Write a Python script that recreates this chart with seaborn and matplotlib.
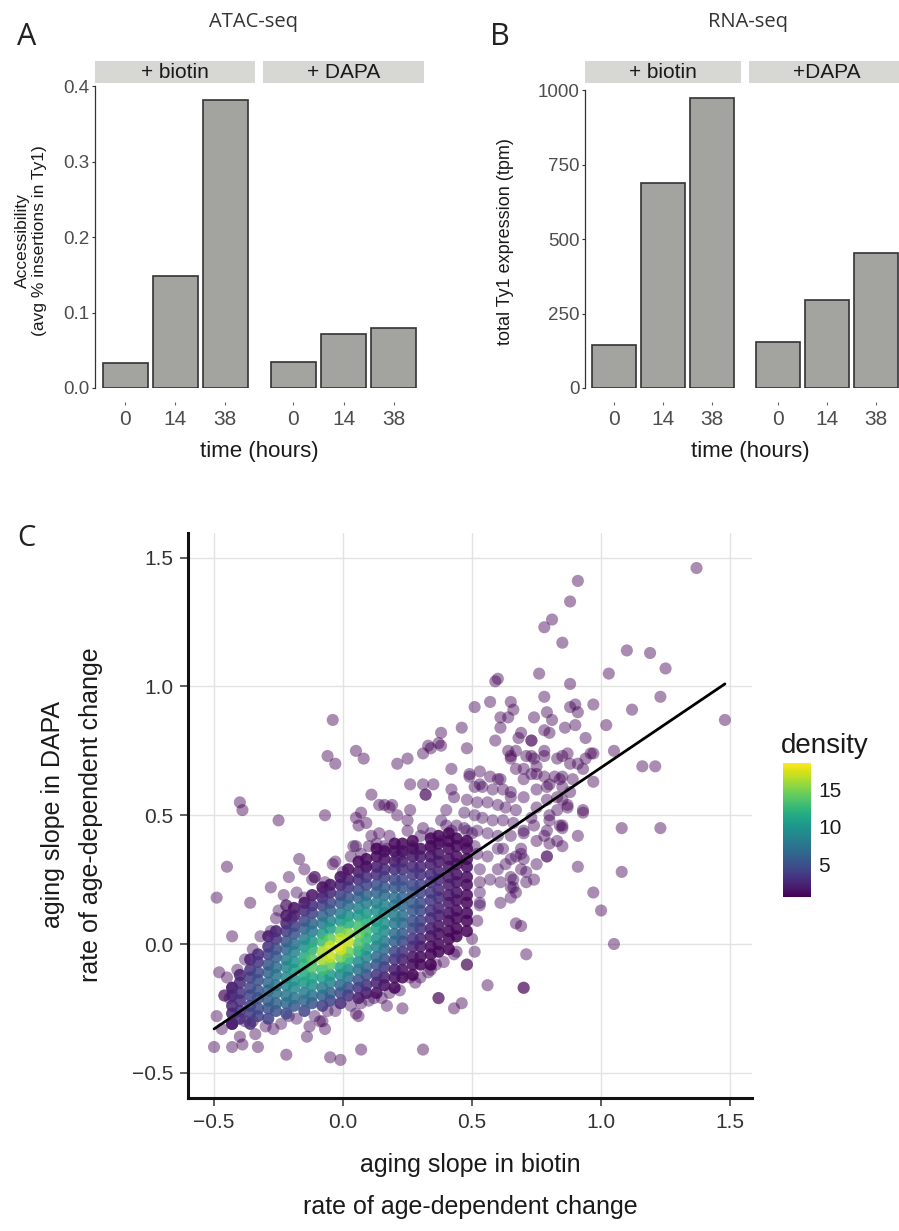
import numpy as np
import pandas as pd
import matplotlib
matplotlib.use("Agg")
import matplotlib.pyplot as plt
import seaborn as sns
from matplotlib.colors import Normalize
from matplotlib.patches import Rectangle
from matplotlib.cm import ScalarMappable

# ---------------- panels A / B : bar heights ----------------
times = ["0", "14", "38"]
atac_biotin = [0.033, 0.148, 0.382]
atac_dapa = [0.034, 0.071, 0.079]
rna_biotin = [144, 689, 972]
rna_dapa = [155, 295, 454]

# ---------------- panel C : fitted line ----------------
fit_x = [-0.50, 1.48]
fit_y = [-0.33, 1.01]

# ---------------- panel C : points (x, y, density) ----------------
far_pts = [
    (1.37, 1.46, 0.6), (0.91, 1.41, 0.6), (0.88, 1.33, 0.6), (0.81, 1.26, 0.6), (0.78, 1.23, 0.6),
    (0.85, 1.17, 0.6), (1.10, 1.14, 0.6), (1.19, 1.13, 0.6), (1.25, 1.07, 0.6), (1.03, 1.05, 0.6),
    (0.76, 1.05, 0.6), (0.59, 1.02, 0.7), (0.60, 1.03, 0.7), (0.88, 1.01, 0.6), (1.23, 0.96, 0.6),
    (1.48, 0.87, 0.6), (1.12, 0.91, 0.6), (1.02, 0.85, 0.6), (1.05, 0.75, 0.6), (1.16, 0.69, 0.6),
    (1.21, 0.69, 0.6), (1.08, 0.45, 0.6), (1.23, 0.45, 0.6), (1.08, 0.28, 0.6), (0.91, 0.30, 0.7),
    (0.97, 0.20, 0.6), (1.00, 0.13, 0.6), (1.05, 0.00, 0.6), (0.67, 0.08, 0.7), (0.69, 0.07, 0.7),
    (0.71, -0.04, 0.6), (0.56, -0.16, 0.6), (0.70, -0.17, 0.6), (0.70, -0.17, 0.6), (0.46, -0.23, 0.6),
    (0.43, -0.25, 0.6), (0.31, -0.41, 0.6), (0.37, -0.21, 0.7), (0.37, -0.21, 0.7), (0.48, -0.08, 0.8),
    (0.48, -0.08, 0.8), (0.51, -0.03, 0.8), (0.43, -0.04, 1.0), (0.23, -0.25, 0.7), (-0.04, 0.87, 0.6),
    (-0.03, 0.70, 0.6), (-0.06, 0.73, 0.6), (0.05, 0.75, 0.6), (0.08, 0.72, 0.6), (-0.40, 0.55, 0.6),
    (-0.39, 0.52, 0.6), (-0.25, 0.48, 0.6), (-0.07, 0.50, 0.6), (-0.45, 0.30, 0.6), (-0.49, 0.18, 0.6),
    (-0.36, 0.16, 0.7), (-0.43, 0.03, 0.6), (-0.48, -0.11, 0.7), (-0.50, -0.40, 0.6), (-0.22, -0.43, 0.6),
    (-0.05, -0.44, 0.6), (-0.01, -0.45, 0.6), (0.07, -0.41, 0.6), (0.11, 0.58, 0.7), (0.21, 0.70, 0.7),
    (0.25, 0.72, 0.7), (0.97, 0.63, 0.7), (0.93, 0.51, 0.7),
]

band_pts = [
    (0.97, 0.93, 0.7), (0.78, 0.96, 0.7), (0.57, 0.94, 0.7), (0.51, 0.92, 0.7), (0.65, 0.94, 0.7),
    (0.66, 0.91, 0.7), (0.61, 0.88, 0.7), (0.61, 0.84, 0.7), (0.79, 0.90, 0.7), (0.74, 0.88, 0.7),
    (0.88, 0.92, 0.7), (0.90, 0.93, 0.7), (0.91, 0.90, 0.7), (0.81, 0.87, 0.7), (0.80, 0.82, 0.7),
    (0.86, 0.84, 0.7), (0.90, 0.85, 0.7), (0.94, 0.80, 0.7), (0.97, 0.74, 0.7), (0.94, 0.72, 0.7),
    (0.46, 0.84, 0.7), (0.38, 0.82, 0.7), (0.37, 0.78, 0.7), (0.34, 0.76, 0.7), (0.48, 0.76, 0.8),
    (0.59, 0.79, 0.8), (0.69, 0.82, 0.8), (0.68, 0.80, 0.8), (0.73, 0.79, 0.8), (0.73, 0.79, 0.8),
    (0.64, 0.75, 0.8), (0.67, 0.75, 0.8), (0.65, 0.72, 0.8), (0.78, 0.75, 0.8), (0.78, 0.73, 0.8),
    (0.74, 0.72, 0.8), (0.83, 0.72, 0.8), (0.87, 0.74, 0.8), (0.88, 0.70, 0.8), (0.42, 0.68, 0.8),
    (0.49, 0.65, 0.9), (0.53, 0.62, 0.9), (0.57, 0.65, 0.9), (0.60, 0.64, 0.9), (0.67, 0.68, 0.9),
    (0.70, 0.68, 0.9), (0.73, 0.66, 0.9), (0.78, 0.65, 0.9), (0.82, 0.65, 0.9), (0.85, 0.65, 0.8),
    (0.89, 0.64, 0.8), (0.33, 0.77, 0.8), (0.31, 0.74, 0.8), (0.65, 0.73, 0.8), (0.26, 0.62, 0.8),
    (0.31, 0.62, 0.9), (0.35, 0.62, 0.9), (0.32, 0.58, 0.9), (0.32, 0.58, 0.9), (0.42, 0.60, 1.0),
    (0.43, 0.57, 1.0), (0.16, 0.54, 0.8), (0.19, 0.54, 0.8), (0.21, 0.50, 0.9), (0.25, 0.48, 0.9),
    (0.05, 0.49, 0.8), (0.06, 0.46, 0.8), (0.05, 0.38, 1.0), (-0.03, 0.32, 1.0), (0.11, 0.42, 1.1),
    (0.13, 0.39, 1.2), (0.16, 0.38, 1.2), (0.38, 0.77, 0.8),
]

mid_pts = [
    (0.49, 0.66, 1.0), (0.53, 0.67, 1.0), (0.61, 0.64, 1.0), (0.51, 0.61, 1.1), (0.54, 0.61, 1.1),
    (0.58, 0.60, 1.1), (0.62, 0.60, 1.1), (0.65, 0.57, 1.1), (0.48, 0.56, 1.2), (0.52, 0.55, 1.2),
    (0.56, 0.55, 1.2), (0.60, 0.54, 1.2), (0.63, 0.53, 1.2), (0.67, 0.52, 1.1), (0.47, 0.51, 1.3),
    (0.51, 0.50, 1.3), (0.54, 0.49, 1.3), (0.58, 0.48, 1.3), (0.62, 0.48, 1.2), (0.66, 0.47, 1.2),
    (0.44, 0.46, 1.3), (0.48, 0.44, 1.4), (0.52, 0.44, 1.4), (0.56, 0.43, 1.4), (0.60, 0.42, 1.3),
    (0.40, 0.52, 1.2), (0.38, 0.48, 1.3), (0.42, 0.44, 1.4), (0.34, 0.43, 1.4), (0.38, 0.40, 1.5),
    (0.30, 0.42, 1.4), (0.27, 0.38, 1.6), (0.23, 0.35, 1.8), (0.34, 0.37, 1.6), (0.47, 0.39, 1.4),
    (0.51, 0.38, 1.4), (0.73, 0.73, 0.8), (0.75, 0.69, 0.8), (0.80, 0.62, 0.8), (0.85, 0.61, 0.8),
    (0.88, 0.59, 0.8), (0.85, 0.73, 0.7), (0.91, 0.70, 0.7), (0.93, 0.68, 0.7), (0.96, 0.74, 0.7),
    (0.79, 0.56, 0.9), (0.75, 0.53, 0.9), (0.83, 0.52, 0.9), (0.85, 0.46, 0.9), (0.79, 0.44, 1.0),
    (0.73, 0.49, 1.0), (0.70, 0.44, 1.0), (0.75, 0.40, 1.0), (0.80, 0.39, 0.9), (0.85, 0.38, 0.9),
    (0.91, 0.42, 0.8), (0.93, 0.52, 0.8), (0.75, 0.31, 1.0), (0.67, 0.34, 1.1), (0.62, 0.37, 1.2),
    (0.64, 0.88, 0.7), (0.78, 0.83, 0.7), (0.71, 0.73, 0.8), (0.75, 0.66, 0.9), (0.84, 0.64, 0.8),
    (0.70, 0.64, 0.9), (0.65, 0.59, 1.0), (0.70, 0.57, 1.0), (0.75, 0.60, 0.9), (0.79, 0.61, 0.9),
    (0.83, 0.57, 0.9), (0.87, 0.53, 0.8), (0.84, 0.46, 0.9), (0.83, 0.40, 0.9), (0.79, 0.34, 0.9),
    (0.79, 0.34, 0.9), (0.80, 0.48, 0.9), (0.74, 0.46, 1.0), (0.70, 0.43, 1.1), (0.65, 0.42, 1.2),
    (0.69, 0.35, 1.1), (0.63, 0.31, 1.2), (0.71, 0.28, 1.0), (0.66, 0.25, 1.1), (0.74, 0.25, 0.9),
    (0.65, 0.22, 1.0), (0.61, 0.16, 1.1), (0.67, 0.20, 1.0), (0.53, 0.16, 1.4), (0.65, 0.33, 1.2),
    (0.65, 0.26, 1.1), (0.71, 0.24, 1.0), (0.65, 0.18, 1.0), (0.60, 0.29, 1.2), (0.69, 0.37, 1.1),
    (0.70, 0.33, 1.1), (0.78, 0.42, 0.9), (0.80, 0.50, 0.9), (0.85, 0.56, 0.8), (0.87, 0.54, 0.8),
    (0.53, 0.15, 1.2), (0.56, 0.34, 1.4), (0.60, 0.37, 1.3), (0.53, 0.29, 1.4), (0.57, 0.25, 1.3),
    (0.53, 0.20, 1.4), (0.61, 0.24, 1.2), (0.66, 0.22, 1.1), (0.69, 0.29, 1.1), (0.17, 0.37, 1.3),
    (0.21, 0.34, 1.5), (0.04, 0.38, 1.1), (0.07, 0.35, 1.2), (0.00, 0.28, 1.3), (0.09, 0.30, 1.4),
    (0.07, 0.51, 0.8), (0.09, 0.47, 0.9), (0.14, 0.54, 0.8), (0.18, 0.53, 0.8), (0.14, 0.43, 1.0),
    (0.26, 0.52, 0.9), (0.85, 0.45, 0.8),
]

lower_pts = [
    (-0.28, 0.22, 0.8), (-0.21, 0.26, 0.9), (-0.17, 0.33, 0.8), (-0.15, 0.29, 0.9), (-0.11, 0.26, 1.0),
    (-0.11, 0.26, 1.0), (-0.23, 0.19, 1.0), (-0.22, 0.15, 1.1), (-0.22, 0.15, 1.1), (-0.15, 0.18, 1.2),
    (-0.07, 0.24, 1.2), (-0.08, 0.20, 1.3), (-0.26, 0.10, 1.2), (-0.28, 0.05, 1.3), (-0.20, 0.10, 1.4),
    (-0.45, -0.13, 0.8), (-0.43, -0.17, 0.9), (-0.46, -0.20, 1.0), (-0.46, -0.20, 1.0), (-0.44, -0.21, 1.0),
    (-0.49, -0.28, 0.8), (-0.47, -0.33, 0.7), (-0.43, -0.31, 0.9), (-0.43, -0.31, 0.9), (-0.38, -0.30, 1.0),
    (-0.40, -0.36, 0.8), (-0.34, -0.35, 0.9), (-0.33, -0.40, 0.7), (-0.43, -0.40, 0.7), (-0.39, -0.39, 0.7),
    (-0.27, -0.33, 0.9), (-0.13, -0.32, 0.9), (-0.09, -0.30, 1.0), (-0.07, -0.33, 0.9), (-0.06, -0.26, 1.2),
    (0.06, -0.28, 1.0), (0.07, -0.23, 1.2), (0.17, -0.24, 0.9), (0.18, -0.19, 1.0), (0.26, -0.13, 1.0),
    (0.30, -0.13, 0.9), (0.34, -0.10, 0.9), (0.36, -0.08, 0.9), (-0.21, -0.28, 1.1), (-0.14, -0.36, 0.8),
    (-0.08, -0.30, 1.0), (-0.35, -0.30, 1.0), (0.05, -0.27, 1.0), (0.12, -0.21, 1.0),
]

edge_pts = [
    (-0.32, 0.03, 1.3), (-0.35, -0.02, 1.5), (-0.38, -0.06, 1.6), (-0.41, -0.10, 1.5), (-0.25, 0.13, 1.3),
    (-0.18, 0.20, 1.2), (-0.12, 0.25, 1.1), (-0.04, 0.31, 1.0), (0.03, 0.34, 1.0), (0.10, 0.38, 1.0),
    (0.18, 0.42, 0.9), (0.25, 0.44, 0.9), (0.31, 0.45, 0.9), (0.40, 0.46, 0.9), (0.47, 0.45, 0.9),
    (-0.30, -0.32, 1.2), (-0.24, -0.31, 1.3), (-0.18, -0.29, 1.4), (-0.11, -0.28, 1.5), (-0.03, -0.26, 1.5),
    (0.03, -0.24, 1.5), (0.10, -0.22, 1.4), (0.15, -0.21, 1.2), (0.22, -0.18, 1.1), (0.28, -0.15, 1.0),
    (0.33, -0.11, 0.9), (0.39, -0.07, 0.9), (0.44, -0.03, 0.8), (0.50, 0.02, 0.8), (0.52, 0.09, 0.8),
    (0.53, 0.24, 0.9), (0.52, 0.35, 1.0), (0.50, 0.43, 1.0),
]

# dense core, read column by column (x of column, y values, density values)
core_col_x = [-0.43, -0.40, -0.36, -0.33, -0.29, -0.26, -0.22, -0.19, -0.15, -0.12, -0.08, -0.05, -0.01, 0.02,
              0.06, 0.09, 0.13, 0.16, 0.20, 0.23, 0.27, 0.30, 0.34, 0.37, 0.41, 0.44, 0.48]
core_col_y = [
    [-0.31, -0.27, -0.24, -0.20, -0.17],
    [-0.29, -0.26, -0.22, -0.19, -0.15, -0.12],
    [-0.31, -0.27, -0.24, -0.20, -0.17, -0.13, -0.10, -0.06],
    [-0.28, -0.25, -0.21, -0.18, -0.14, -0.11, -0.07, -0.04],
    [-0.29, -0.25, -0.22, -0.18, -0.15, -0.11, -0.08, -0.04, -0.01, 0.03],
    [-0.26, -0.23, -0.19, -0.16, -0.12, -0.09, -0.05, -0.02, 0.02, 0.05],
    [-0.27, -0.23, -0.20, -0.16, -0.13, -0.09, -0.06, -0.02, 0.01, 0.05, 0.08, 0.11],
    [-0.24, -0.21, -0.17, -0.14, -0.10, -0.07, -0.03, 0.00, 0.04, 0.07, 0.11, 0.14],
    [-0.26, -0.22, -0.19, -0.15, -0.12, -0.08, -0.05, -0.01, 0.02, 0.06, 0.09, 0.13, 0.16],
    [-0.23, -0.20, -0.16, -0.13, -0.09, -0.06, -0.02, 0.01, 0.05, 0.08, 0.12, 0.15, 0.19],
    [-0.24, -0.20, -0.17, -0.13, -0.10, -0.06, -0.03, 0.01, 0.04, 0.08, 0.11, 0.15, 0.18, 0.22],
    [-0.22, -0.19, -0.15, -0.12, -0.08, -0.05, -0.01, 0.02, 0.06, 0.09, 0.13, 0.16, 0.20, 0.23],
    [-0.23, -0.19, -0.16, -0.12, -0.09, -0.05, -0.02, 0.02, 0.05, 0.09, 0.12, 0.16, 0.19, 0.23, 0.26],
    [-0.20, -0.17, -0.13, -0.10, -0.06, -0.03, 0.01, 0.04, 0.08, 0.11, 0.15, 0.18, 0.22, 0.25, 0.29],
    [-0.21, -0.17, -0.14, -0.10, -0.07, -0.03, 0.00, 0.04, 0.07, 0.11, 0.14, 0.18, 0.21, 0.25, 0.28, 0.32],
    [-0.19, -0.16, -0.12, -0.09, -0.05, -0.02, 0.02, 0.05, 0.09, 0.12, 0.16, 0.19, 0.23, 0.26, 0.30, 0.33],
    [-0.19, -0.15, -0.12, -0.08, -0.05, -0.01, 0.02, 0.06, 0.09, 0.13, 0.16, 0.20, 0.23, 0.27, 0.30, 0.34, 0.37],
    [-0.16, -0.13, -0.09, -0.06, -0.02, 0.01, 0.05, 0.08, 0.12, 0.15, 0.19, 0.22, 0.26, 0.29, 0.33, 0.36],
    [-0.17, -0.13, -0.10, -0.06, -0.03, 0.01, 0.04, 0.08, 0.11, 0.15, 0.18, 0.22, 0.25, 0.29, 0.32, 0.36, 0.39],
    [-0.13, -0.10, -0.06, -0.03, 0.01, 0.04, 0.08, 0.11, 0.15, 0.18, 0.22, 0.25, 0.29, 0.32, 0.36, 0.39],
    [-0.12, -0.08, -0.05, -0.01, 0.02, 0.06, 0.09, 0.13, 0.16, 0.20, 0.23, 0.27, 0.30, 0.34, 0.37, 0.40],
    [-0.08, -0.05, -0.01, 0.02, 0.06, 0.09, 0.13, 0.16, 0.20, 0.23, 0.27, 0.30, 0.34, 0.37],
    [-0.08, -0.04, -0.01, 0.03, 0.06, 0.10, 0.13, 0.17, 0.20, 0.24, 0.27, 0.31, 0.34, 0.38, 0.41],
    [-0.03, 0.00, 0.04, 0.07, 0.11, 0.14, 0.18, 0.21, 0.25, 0.28, 0.32, 0.35, 0.39, 0.42],
    [-0.02, 0.02, 0.05, 0.09, 0.12, 0.16, 0.19, 0.23, 0.26, 0.30, 0.33, 0.37, 0.40, 0.43],
    [0.03, 0.06, 0.10, 0.13, 0.17, 0.20, 0.24, 0.27, 0.31, 0.34, 0.38, 0.41],
    [0.05, 0.09, 0.12, 0.16, 0.19, 0.23, 0.26, 0.30, 0.33, 0.37, 0.40],
]
core_col_d = [
    [2.0, 2.3, 2.4, 2.3, 2.0],
    [2.7, 3.0, 3.1, 3.0, 2.6, 2.1],
    [2.8, 3.7, 4.1, 4.3, 4.2, 3.6, 3.0, 2.1],
    [3.9, 4.6, 5.1, 5.2, 4.9, 4.4, 3.3, 2.5],
    [3.9, 5.1, 5.9, 6.5, 6.5, 6.0, 5.2, 4.0, 3.0, 1.8],
    [5.0, 6.1, 7.2, 7.6, 7.5, 6.9, 5.7, 4.6, 3.0, 2.0],
    [4.5, 6.3, 7.6, 8.7, 9.1, 8.7, 8.0, 6.4, 5.1, 3.4, 2.2, 1.4],
    [5.7, 7.2, 8.9, 9.8, 10.2, 9.7, 8.4, 7.0, 5.0, 3.7, 2.0, 1.3],
    [4.2, 6.3, 8.0, 9.9, 11.4, 12.1, 11.4, 9.5, 8.0, 5.8, 4.3, 2.5, 1.5],
    [5.3, 7.0, 9.3, 11.1, 13.4, 13.8, 12.0, 10.0, 7.8, 6.0, 3.9, 2.5, 1.3],
    [3.8, 6.0, 7.9, 10.4, 12.9, 16.0, 16.0, 12.8, 10.3, 7.8, 6.0, 3.8, 2.4, 1.3],
    [4.1, 5.8, 8.3, 10.2, 13.9, 16.9, 17.0, 14.1, 10.4, 8.4, 5.9, 4.2, 2.3, 1.4],
    [2.6, 4.5, 6.3, 8.8, 10.9, 14.8, 17.4, 16.6, 13.4, 9.8, 8.0, 5.4, 3.8, 2.0, 1.3],
    [3.1, 4.6, 7.0, 8.8, 11.7, 14.5, 16.9, 15.4, 11.7, 9.5, 7.0, 5.1, 3.1, 1.9, 1.0],
    [1.7, 3.2, 4.8, 7.1, 8.8, 11.4, 13.4, 14.4, 13.1, 10.3, 8.5, 6.2, 4.5, 2.6, 1.6, 1.0],
    [1.7, 2.8, 4.6, 6.3, 8.5, 10.0, 12.0, 12.7, 11.6, 9.9, 7.9, 6.2, 4.1, 2.7, 1.4, 1.0],
    [1.1, 2.0, 3.1, 5.0, 6.5, 8.4, 9.6, 10.6, 10.5, 9.4, 8.1, 6.2, 4.7, 2.8, 1.8, 1.0, 0.8],
    [1.2, 1.9, 3.3, 4.7, 6.5, 7.8, 9.0, 9.4, 9.1, 8.4, 6.8, 5.4, 3.6, 2.4, 1.3, 1.0],
    [0.85, 1.2, 1.8, 3.0, 4.2, 5.8, 6.8, 7.8, 8.0, 7.6, 6.9, 5.4, 4.3, 2.7, 1.8, 1.1, 0.85],
    [0.9, 1.2, 2.0, 3.0, 4.4, 5.4, 6.5, 6.9, 6.8, 6.3, 5.2, 4.3, 2.9, 1.9, 1.2, 0.9],
    [0.8, 1.0, 1.4, 2.3, 3.1, 4.3, 4.9, 5.4, 5.5, 5.1, 4.5, 3.4, 2.6, 1.6, 1.1, 0.9],
    [0.85, 1.0, 1.6, 2.1, 3.1, 3.8, 4.4, 4.6, 4.4, 4.0, 3.1, 2.5, 1.6, 1.2],
    [0.7, 0.85, 1.0, 1.4, 1.9, 2.6, 3.0, 3.4, 3.4, 3.1, 2.7, 2.0, 1.5, 1.0, 0.9],
    [0.75, 0.9, 1.1, 1.4, 1.9, 2.2, 2.6, 2.6, 2.5, 2.1, 1.7, 1.3, 1.0, 0.85],
    [0.7, 0.8, 0.9, 1.0, 1.3, 1.6, 1.7, 1.8, 1.8, 1.5, 1.3, 1.0, 0.9, 0.8],
    [0.7, 0.8, 0.9, 1.0, 1.2, 1.3, 1.4, 1.4, 1.2, 1.1, 0.95, 0.85],
    [0.7, 0.8, 0.85, 0.9, 1.0, 1.0, 1.1, 1.1, 1.0, 0.95, 0.9],
]

# ---------------- style ----------------
sns.set_theme(style="white")
plt.rcParams["font.family"] = ["Liberation Sans", "DejaVu Sans"]
plt.rcParams["axes.unicode_minus"] = True

W, H = 899, 1231
BAR_FILL = "#a3a39f"
BAR_EDGE = "#333333"
STRIP = "#d7d8d3"
GREY_TXT = "#4d4d4d"
LETTER_FONT = ["Open Sans", "DejaVu Sans"]
DOT = 76


def rect(left, top, right, bottom):
    return [left / W, 1 - bottom / H, (right - left) / W, (bottom - top) / H]


def fx(px):
    return px / W


def fy(py):
    return 1 - py / H


fig = plt.figure(figsize=(W / 100, H / 100), dpi=100)
fig.patch.set_facecolor("white")


def bar_panel(box, vals, ymax, yticks, ylabels, strip_label, show_y):
    ax = fig.add_axes(rect(*box))
    df = pd.DataFrame({"time": times, "value": vals})
    sns.barplot(data=df, x="time", y="value", order=times, color=BAR_FILL,
                saturation=1, edgecolor=BAR_EDGE, linewidth=1.2, width=0.9, ax=ax)
    ax.set_xlim(-0.6, 2.6)
    ax.set_ylim(0, ymax)
    ax.set_xlabel("")
    ax.set_ylabel("")
    for s in ["top", "right"]:
        ax.spines[s].set_visible(False)
    ax.spines["bottom"].set_position(("outward", 10))
    ax.spines["bottom"].set_visible(False)
    ax.tick_params(axis="x", bottom=True, length=2.2, width=0.8, color="#666666",
                   pad=3.5, labelsize=15, labelcolor=GREY_TXT)
    if show_y:
        ax.spines["left"].set_color("#333333")
        ax.spines["left"].set_linewidth(0.9)
        ax.spines["left"].set_bounds(0, yticks[-1])
        ax.set_yticks(yticks)
        ax.set_yticklabels(ylabels)
        ax.tick_params(axis="y", left=True, length=2.2, width=0.8, color="#333333",
                       pad=1.5, labelsize=13.5, labelcolor=GREY_TXT)
    else:
        ax.spines["left"].set_visible(False)
        ax.set_yticks([])
    h = box[3] - box[1]
    ax.add_patch(Rectangle((0, 1), 1, 22 / h, transform=ax.transAxes, clip_on=False,
                           facecolor=STRIP, edgecolor="none"))
    ax.text(0.5, 1 + 11 / h, strip_label, transform=ax.transAxes, ha="center",
            va="center", fontsize=15, color="#1a1a1a")
    ax.set_facecolor("none")
    return ax


# ---------------- panel A ----------------
a_ticks = [0.0, 0.1, 0.2, 0.3, 0.4]
a_labels = ["0.0", "0.1", "0.2", "0.3", "0.4"]
bar_panel((95, 83, 255, 388), atac_biotin, 0.404, a_ticks, a_labels, "+ biotin", True)
bar_panel((263, 83, 424, 388), atac_dapa, 0.404, a_ticks, a_labels, "+ DAPA", False)

# ---------------- panel B ----------------
b_ticks = [0, 250, 500, 750, 1000]
b_labels = ["0", "250", "500", "750", "1000"]
bar_panel((585, 83, 741, 388), rna_biotin, 1023.5, b_ticks, b_labels, "+ biotin", True)
bar_panel((749, 83, 905, 388), rna_dapa, 1023.5, b_ticks, b_labels, "+DAPA", False)

fig.text(fx(253), fy(22), "ATAC-seq", ha="center", va="center", fontsize=14.5,
         color="#333333", family=LETTER_FONT)
fig.text(fx(748), fy(22), "RNA-seq", ha="center", va="center", fontsize=14.5,
         color="#333333", family=LETTER_FONT)
fig.text(fx(27), fy(37), "A", ha="center", va="center", fontsize=22, family=LETTER_FONT, color="#222222")
fig.text(fx(500), fy(37), "B", ha="center", va="center", fontsize=22, family=LETTER_FONT, color="#222222")
fig.text(fx(259), fy(451), "time (hours)", ha="center", va="center", fontsize=16, color="#1a1a1a")
fig.text(fx(750), fy(451), "time (hours)", ha="center", va="center", fontsize=16, color="#1a1a1a")
fig.text(fx(31), fy(241), "Accessibility\n(avg % insertions in Ty1)", rotation=90, ha="center",
         va="center", fontsize=12.5, linespacing=1.25, multialignment="center", color="#1a1a1a")
fig.text(fx(505), fy(242), "total Ty1 expression (tpm)", rotation=90, ha="center",
         va="center", fontsize=13, color="#1a1a1a")

# ---------------- panel C ----------------
norm = Normalize(vmin=0.6, vmax=18.5)
axc = fig.add_axes(rect(188, 533, 752, 1098))

outer = pd.DataFrame(far_pts + band_pts + mid_pts + lower_pts + edge_pts,
                     columns=["x", "y", "density"]).sort_values("density")
core_rows = []
for cx, ys, ds in zip(core_col_x, core_col_y, core_col_d):
    assert len(ys) == len(ds)
    for yv, dv in zip(ys, ds):
        core_rows.append((cx, yv, dv))
core = pd.DataFrame(core_rows, columns=["x", "y", "density"]).sort_values("density")

axc.grid(True, color="#e2e2e2", linewidth=1.0)
axc.set_axisbelow(True)
sns.scatterplot(data=outer, x="x", y="y", hue="density", palette="viridis", hue_norm=norm,
                s=DOT, alpha=0.45, linewidth=0, legend=False, ax=axc)
sns.scatterplot(data=core, x="x", y="y", hue="density", palette="viridis", hue_norm=norm,
                s=DOT, alpha=0.85, linewidth=0, legend=False, ax=axc)
sns.lineplot(x=fit_x, y=fit_y, color="black", linewidth=2.0, ax=axc)

axc.set_xlim(-0.601, 1.585)
axc.set_ylim(-0.598, 1.596)
c_ticks = [-0.5, 0.0, 0.5, 1.0, 1.5]
c_labels = ["\u22120.5", "0.0", "0.5", "1.0", "1.5"]
axc.set_xticks(c_ticks)
axc.set_xticklabels(c_labels)
axc.set_yticks(c_ticks)
axc.set_yticklabels(c_labels)
axc.set_xlabel("")
axc.set_ylabel("")
for s in ["top", "right"]:
    axc.spines[s].set_visible(False)
for s in ["left", "bottom"]:
    axc.spines[s].set_color("#111111")
    axc.spines[s].set_linewidth(2.2)
axc.tick_params(axis="both", length=5.5, width=1.1, color="#333333", pad=5,
                labelsize=15, labelcolor="#333333", bottom=True, left=True)

fig.text(fx(53), fy(815), "aging slope in DAPA", rotation=90, ha="center", va="center",
         fontsize=18, color="#1a1a1a")
fig.text(fx(91), fy(815), "rate of age-dependent change", rotation=90, ha="center", va="center",
         fontsize=18, color="#1a1a1a")
fig.text(fx(470), fy(1165), "aging slope in biotin", ha="center", va="center",
         fontsize=18, color="#1a1a1a")
fig.text(fx(470), fy(1207), "rate of age-dependent change", ha="center", va="center",
         fontsize=18, color="#1a1a1a")
fig.text(fx(26), fy(538), "C", ha="center", va="center", fontsize=21, family=LETTER_FONT, color="#222222")

# colour bar
cax = fig.add_axes(rect(783, 763, 811, 897))
sm = ScalarMappable(norm=norm, cmap="viridis")
cb = fig.colorbar(sm, cax=cax)
cb.outline.set_visible(False)
cb.set_ticks([5, 10, 15])
cax.yaxis.set_ticks_position("both")
cax.tick_params(axis="y", direction="in", length=4, width=0.8, color="white",
                left=True, right=True, labelleft=False, labelright=True,
                labelsize=15, labelcolor="#1a1a1a", pad=5)
fig.text(fx(781), fy(746), "density", ha="left", va="center", fontsize=20, color="#1a1a1a")

fig.savefig("out.png", dpi=100)
